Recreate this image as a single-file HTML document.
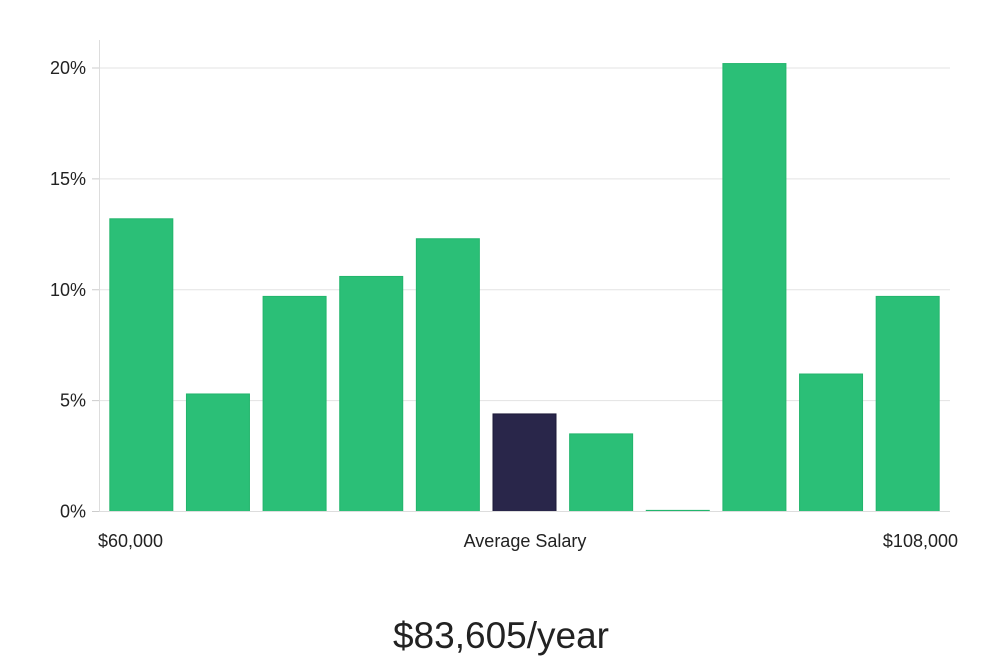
<!DOCTYPE html>
<html><head><meta charset="utf-8"><style>
body{margin:0;background:#fff;width:1000px;height:660px;overflow:hidden;font-family:"Liberation Sans","DejaVu Sans",sans-serif}
</style></head><body>
<svg id="chart" width="1000" height="660" viewBox="0 0 1000 660" xmlns="http://www.w3.org/2000/svg">
<g id="grid"></g>
<g id="yticks"></g>
<line x1="99.5" y1="40" x2="99.5" y2="511.5" stroke="#ddd"/>
<g id="bars"></g>
<line x1="99" y1="511.5" x2="950" y2="511.5" stroke="#ddd"/>
<text x="98" y="547" font-size="18" fill="#222">$60,000</text>
<text x="525" y="547" font-size="18" fill="#222" text-anchor="middle">Average Salary</text>
<text x="958" y="547" font-size="18" fill="#222" text-anchor="end">$108,000</text>
<text x="501" y="648" font-size="37" fill="#222" text-anchor="middle">$83,605/year</text>
</svg>
<script>
const categories = ["b1","b2","b3","b4","b5","b6","b7","b8","b9","b10","b11"];
const values = [13.2,5.3,9.7,10.6,12.3,4.4,3.5,0.05,20.2,6.2,9.7];
const highlight = [false,false,false,false,false,true,false,false,false,false,false];
const yTicks = [0,5,10,15,20];
const yTickLabels = ["0%","5%","10%","15%","20%"];
const NS="http://www.w3.org/2000/svg";
const y0=511.5, yScale=(511.5-68)/20;
const yPos=v=>y0-v*yScale;
const xLeft=103, xStep=(946-103)/categories.length, barW=63;
const xPos=i=>xLeft+i*xStep+(xStep-barW)/2;
const grid=document.getElementById('grid'), yt=document.getElementById('yticks'), bars=document.getElementById('bars');
yTicks.forEach((t,i)=>{
  const y=yPos(t);
  if(t>0){
    const l=document.createElementNS(NS,'line');
    l.setAttribute('x1',99);l.setAttribute('x2',950);l.setAttribute('y1',y);l.setAttribute('y2',y);
    l.setAttribute('stroke','#e3e3e3');
    
    
    grid.appendChild(l);
  }
  const tx=document.createElementNS(NS,'text');
  tx.setAttribute('x',86);tx.setAttribute('y',y+6);tx.setAttribute('text-anchor','end');
  tx.setAttribute('font-size','18');tx.setAttribute('fill','#222');
  tx.textContent=yTickLabels[i];
  
  
  yt.appendChild(tx);
  const tk=document.createElementNS(NS,'line');
  tk.setAttribute('x1',92);tk.setAttribute('x2',99);tk.setAttribute('y1',y);tk.setAttribute('y2',y);
  tk.setAttribute('stroke','#ccc');
  
  
  yt.appendChild(tk);
});
values.forEach((v,i)=>{
  const r=document.createElementNS(NS,'rect');
  const top=yPos(v);
  r.setAttribute('x',xPos(i));r.setAttribute('width',barW);
  r.setAttribute('y',top);r.setAttribute('height',Math.max(1,y0-top));
  r.setAttribute('fill',highlight[i]?'#29264a':'#2bbf77');
  r.setAttribute('stroke',highlight[i]?'#1c1a38':'#22b56c');
  
  
  bars.appendChild(r);
});
</script>
</body></html>
